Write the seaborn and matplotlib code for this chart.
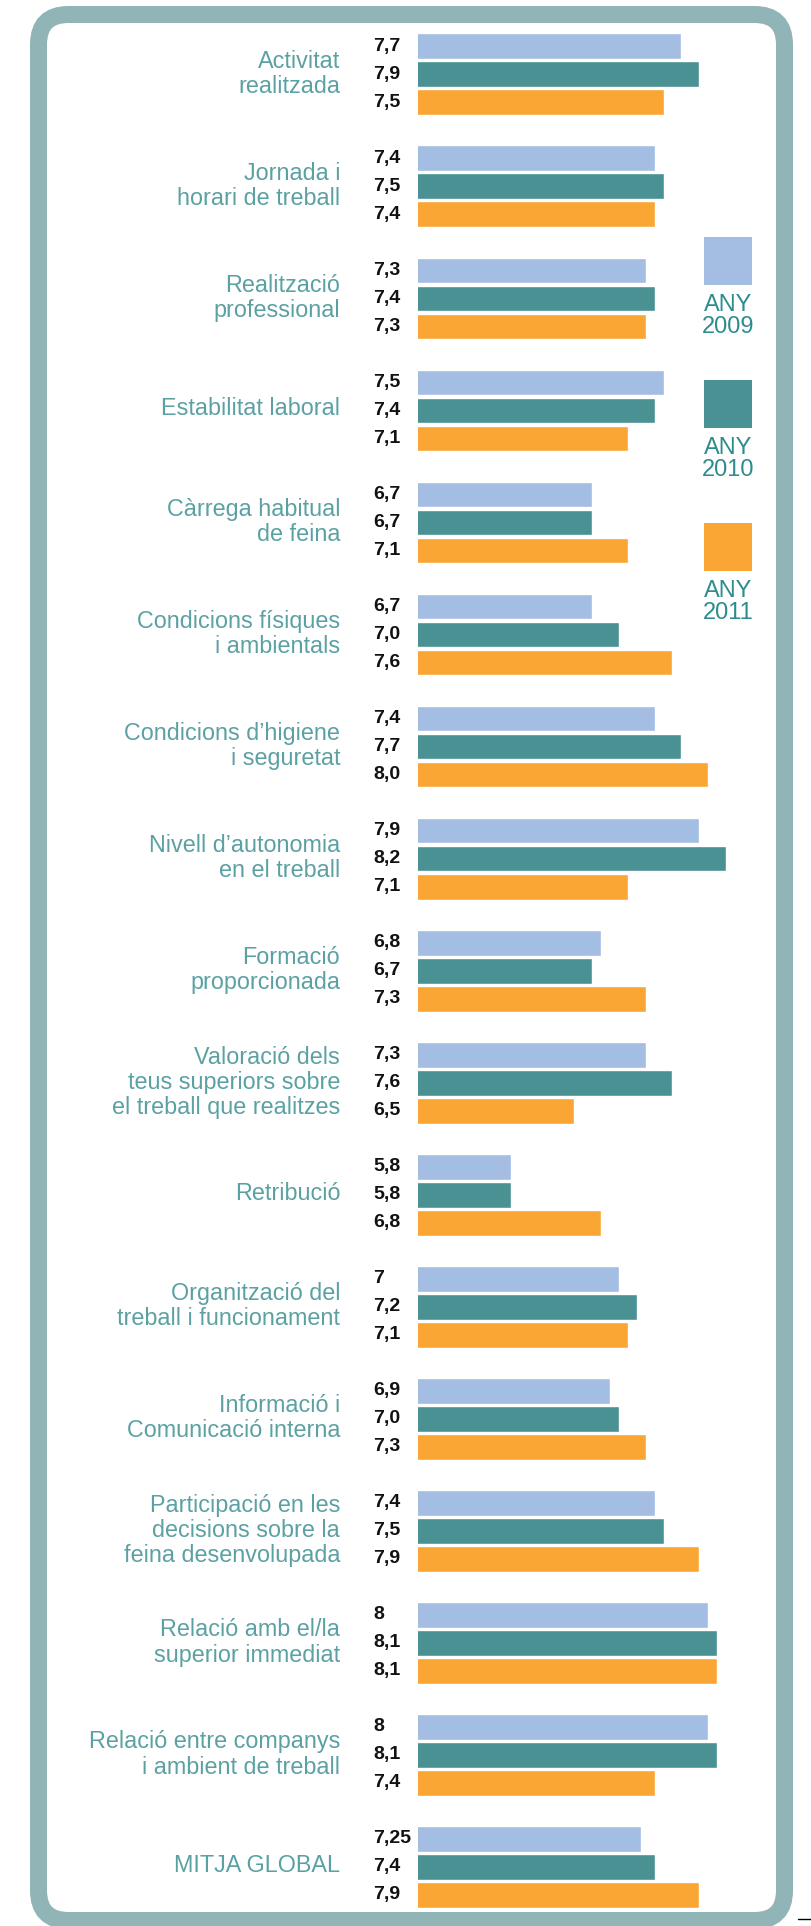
import matplotlib
matplotlib.use("Agg")
import matplotlib.pyplot as plt
import matplotlib.transforms as mtransforms
from matplotlib.patches import FancyBboxPatch, Rectangle
from matplotlib.lines import Line2D
import seaborn as sns
import pandas as pd

categories = [
    "Activitat\nrealitzada",
    "Jornada i\nhorari de treball",
    "Realització\nprofessional",
    "Estabilitat laboral",
    "Càrrega habitual\nde feina",
    "Condicions físiques\ni ambientals",
    "Condicions d’higiene\ni seguretat",
    "Nivell d’autonomia\nen el treball",
    "Formació\nproporcionada",
    "Valoració dels\nteus superiors sobre\nel treball que realitzes",
    "Retribució",
    "Organització del\ntreball i funcionament",
    "Informació i\nComunicació interna",
    "Participació en les\ndecisions sobre la\nfeina desenvolupada",
    "Relació amb el/la\nsuperior immediat",
    "Relació entre companys\ni ambient de treball",
    "MITJA GLOBAL",
]
years = ["ANY\n2009", "ANY\n2010", "ANY\n2011"]
v2009 = [7.7, 7.4, 7.3, 7.5, 6.7, 6.7, 7.4, 7.9, 6.8, 7.3, 5.8, 7.0, 6.9, 7.4, 8.0, 8.0, 7.25]
v2010 = [7.9, 7.5, 7.4, 7.4, 6.7, 7.0, 7.7, 8.2, 6.7, 7.6, 5.8, 7.2, 7.0, 7.5, 8.1, 8.1, 7.4]
v2011 = [7.5, 7.4, 7.3, 7.1, 7.1, 7.6, 8.0, 7.1, 7.3, 6.5, 6.8, 7.1, 7.3, 7.9, 8.1, 7.4, 7.9]
lbl2009 = ["7,7", "7,4", "7,3", "7,5", "6,7", "6,7", "7,4", "7,9", "6,8", "7,3", "5,8", "7", "6,9", "7,4", "8", "8", "7,25"]
lbl2010 = ["7,9", "7,5", "7,4", "7,4", "6,7", "7,0", "7,7", "8,2", "6,7", "7,6", "5,8", "7,2", "7,0", "7,5", "8,1", "8,1", "7,4"]
lbl2011 = ["7,5", "7,4", "7,3", "7,1", "7,1", "7,6", "8,0", "7,1", "7,3", "6,5", "6,8", "7,1", "7,3", "7,9", "8,1", "7,4", "7,9"]

colors = ["#A4BDE3", "#4A9193", "#F9A634"]
frame_color = "#91B5B7"
label_color = "#5BA1A3"
legend_text_color = "#2E8C8C"

rows = []
for yr, vals in zip(years, [v2009, v2010, v2011]):
    for c, v in zip(categories, vals):
        rows.append({"category": c, "year": yr, "value": v})
df = pd.DataFrame(rows)

sns.set_theme(style="white")
W, H = 812, 1926
fig = plt.figure(figsize=(W / 100, H / 100), dpi=100)
fig.patch.set_facecolor("white")

# rounded frame (pixel coords, origin bottom-left)
ident = mtransforms.IdentityTransform()
lw_px = 17
x0, x1 = 38.5, 784.5
ytop, ybot = 14.5, 1920.5
frame = FancyBboxPatch((x0, H - ybot), x1 - x0, ybot - ytop,
                       boxstyle="round,pad=0,rounding_size=30",
                       facecolor="white", edgecolor=frame_color,
                       linewidth=lw_px * 72 / 100, transform=ident, zorder=-5)
fig.patches.append(frame)

ax_left, ax_w = 418, 322
ax_top, ax_bot = 18.3, 1923
ax = fig.add_axes([ax_left / W, (H - ax_bot) / H, ax_w / W, (ax_bot - ax_top) / H])
ax.set_facecolor("none")

sns.barplot(data=df, x="value", y="category", hue="year", orient="h",
            palette=colors, width=0.75, gap=0.08, saturation=1,
            legend=False, ax=ax, errorbar=None)

ax.set_xlim(4.76, 4.76 + ax_w / 89.6)
ax.set_ylim(len(categories) - 0.5, -0.5)
for s in ax.spines.values():
    s.set_visible(False)
ax.set_xticks([])
ax.set_xlabel("")
ax.set_ylabel("")
ax.set_yticks(range(len(categories)), categories, fontfamily="Liberation Sans",
              fontsize=16.8, color=label_color, linespacing=1.12)
ax.tick_params(axis="y", length=0, pad=56)
offset = mtransforms.ScaledTranslation(0, 4 / 100, fig.dpi_scale_trans)
for tick in ax.yaxis.get_major_ticks():
    tick.label1.set_transform(tick.label1.get_transform() + offset)

# value labels
trans = mtransforms.blended_transform_factory(ax.transAxes, ax.transData)
xlab = (373 - ax_left) / ax_w
for cont, labs in zip(ax.containers, [lbl2009, lbl2010, lbl2011]):
    for bar, lab in zip(cont, labs):
        yc = bar.get_y() + bar.get_height() / 2
        ax.text(xlab, yc, lab, transform=trans, ha="left", va="center",
                fontsize=14, fontweight="bold",
                fontfamily=["Liberation Sans", "DejaVu Sans"],
                color="#111111")

# legend squares
sq = 48
for i, (yr, col) in enumerate(zip(years, colors)):
    top = 237 + i * 143
    fig.patches.append(Rectangle((704, H - top - sq), sq, sq, facecolor=col,
                                 edgecolor="none", transform=ident, zorder=2))
    fig.text(728 / W, 1 - (top + sq + 31) / H, yr, ha="center", va="center",
             fontsize=17, color=legend_text_color, fontfamily="Liberation Sans",
             linespacing=0.95)

# small dash bottom right
fig.lines.append(Line2D([798, 811], [H - 1919, H - 1919], color="black",
                        linewidth=1, transform=ident))

fig.savefig("out.png", dpi=100)
